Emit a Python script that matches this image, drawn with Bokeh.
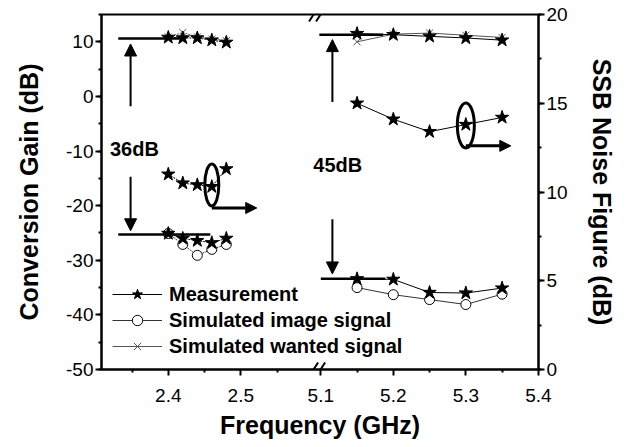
from bokeh.plotting import figure
from bokeh.models import (Range1d, LinearAxis, FixedTicker, SingleIntervalTicker,
                          CustomJSTickFormatter, Legend, LegendItem, Arrow, NormalHead, Label)
from bokeh.embed import file_html
from bokeh.resources import INLINE

# ---------------- data ----------------
freq_24 = [2.40, 2.42, 2.44, 2.46, 2.48]            # GHz
freq_52 = [5.15, 5.20, 5.25, 5.30, 5.35]            # GHz

gain_meas_wanted_24 = [10.8, 10.7, 10.7, 10.3, 9.9]
gain_sim_wanted_24 = [10.9, 11.7, 10.9, 10.5, 10.2]
gain_meas_image_24 = [-25.1, -26.0, -26.4, -26.8, -26.0]
gain_sim_image_24 = [-25.1, -27.1, -29.1, -28.0, -27.1]
nf_meas_24 = [11.0, 10.5, 10.4, 10.3, 11.3]

gain_meas_wanted_52 = [11.5, 11.3, 11.0, 10.7, 10.3]
gain_sim_wanted_52 = [10.0, 11.4, 11.6, 11.2, 10.8]
gain_meas_image_52 = [-33.4, -33.5, -35.9, -36.0, -35.1]
gain_sim_image_52 = [-35.0, -36.3, -37.2, -38.1, -36.2]
nf_meas_52 = [15.0, 14.1, 13.4, 13.8, 14.2]

x_major_ticks = [2.4, 2.5, 5.1, 5.2, 5.3, 5.4]
x_minor_ticks = [2.35, 2.45, 2.55, 5.15, 5.25, 5.35]
rejection_labels = ["36dB", "45dB"]

# ---------------- broken x axis mapping ----------------
BREAK_FROM = 5.1       # real GHz where right segment starts
BREAK_TO = 2.6103      # axis position of that start


def fx(f):
    return f if f < 3.0 else f - BREAK_FROM + BREAK_TO


def fxs(fs):
    return [fx(f) for f in fs]


X_START, X_END = 2.3079, fx(5.4) + 0.0002

FONT = "Liberation Sans"

p = figure(width=638, height=447, output_backend="svg", toolbar_location=None,
           x_range=Range1d(X_START, X_END), y_range=Range1d(-50, 15),
           min_border_left=101, min_border_right=100, min_border_top=14, min_border_bottom=78)
p.extra_y_ranges = {"nf": Range1d(0, 20)}
p.xgrid.visible = False
p.ygrid.visible = False
p.outline_line_color = "black"
p.outline_line_width = 2
p.background_fill_color = "white"
p.border_fill_color = "white"


def style_axis(ax):
    ax.axis_line_width = 2
    ax.major_tick_line_width = 2
    ax.minor_tick_line_width = 2
    ax.major_tick_in = 0
    ax.major_tick_out = 6
    ax.minor_tick_in = 0
    ax.minor_tick_out = 3
    ax.major_label_text_font = FONT
    ax.major_label_text_font_size = "19px"
    ax.major_label_text_color = "black"
    ax.axis_label_text_font = FONT
    ax.axis_label_text_font_size = "25px"
    ax.axis_label_text_font_style = "bold"
    ax.axis_label_text_color = "black"


plain_fmt = CustomJSTickFormatter(code="return tick.toString();")

# x axis
xa = p.xaxis[0]
xa.ticker = FixedTicker(ticks=fxs(x_major_ticks), minor_ticks=fxs(x_minor_ticks))
xa.formatter = CustomJSTickFormatter(args=dict(bf=BREAK_FROM, bt=BREAK_TO), code="""
    const v = tick > bt - 0.005 ? tick - bt + bf : tick;
    return v.toFixed(1);
""")
xa.axis_label = "Frequency (GHz)"
style_axis(xa)
xa.major_label_standoff = 13
xa.axis_label_standoff = 6

# left axis
ya = p.yaxis[0]
ya.ticker = SingleIntervalTicker(interval=10, num_minor_ticks=2)
ya.formatter = plain_fmt
ya.axis_label = "Conversion Gain (dB)"
style_axis(ya)
ya.major_label_standoff = 2
ya.axis_label_standoff = 20

# right axis
ra = LinearAxis(y_range_name="nf", axis_label="SSB Noise Figure (dB)",
                ticker=SingleIntervalTicker(interval=5, num_minor_ticks=2),
                formatter=CustomJSTickFormatter(code="return tick.toString();"))
style_axis(ra)
ra.major_label_standoff = 2
ra.axis_label_standoff = 17
p.add_layout(ra, "right")

# ---------------- series ----------------
MEAS = "black"
IMG = "#333333"
WANT = "#555555"

# 2.4 GHz band (dotted connectors)
p.line(fxs(freq_24), gain_sim_wanted_24, line_color=WANT, line_width=1, line_dash="2 1")
p.scatter(fxs(freq_24), gain_sim_wanted_24, marker="x", size=10, line_color=WANT, line_width=1)
p.line(fxs(freq_24), gain_sim_image_24, line_color=IMG, line_width=1, line_dash="2 1")
p.scatter(fxs(freq_24), gain_sim_image_24, marker="circle", size=10, line_color="black",
          fill_color="white", line_width=1)
p.line(fxs(freq_24), gain_meas_wanted_24, line_color=MEAS, line_width=1, line_dash="2 1")
p.scatter(fxs(freq_24), gain_meas_wanted_24, marker="star", size=14, color=MEAS)
p.line(fxs(freq_24), gain_meas_image_24, line_color=MEAS, line_width=1, line_dash="2 1")
p.scatter(fxs(freq_24), gain_meas_image_24, marker="star", size=14, color=MEAS)
p.line(fxs(freq_24), nf_meas_24, line_color=MEAS, line_width=1, line_dash="2 1", y_range_name="nf")
p.scatter(fxs(freq_24), nf_meas_24, marker="star", size=14, color=MEAS, y_range_name="nf")

# 5.2 GHz band (solid connectors)
rw_l = p.line(fxs(freq_52), gain_sim_wanted_52, line_color=WANT, line_width=1)
rw_s = p.scatter(fxs(freq_52), gain_sim_wanted_52, marker="x", size=10, line_color=WANT, line_width=1)
ri_l = p.line(fxs(freq_52), gain_sim_image_52, line_color=IMG, line_width=1)
ri_s = p.scatter(fxs(freq_52), gain_sim_image_52, marker="circle", size=10, line_color="black",
                 fill_color="white", line_width=1)
rm_l = p.line(fxs(freq_52), gain_meas_wanted_52, line_color=MEAS, line_width=1)
rm_s = p.scatter(fxs(freq_52), gain_meas_wanted_52, marker="star", size=14, color=MEAS)
p.line(fxs(freq_52), gain_meas_image_52, line_color=MEAS, line_width=1)
p.scatter(fxs(freq_52), gain_meas_image_52, marker="star", size=14, color=MEAS)
p.line(fxs(freq_52), nf_meas_52, line_color=MEAS, line_width=1, y_range_name="nf")
p.scatter(fxs(freq_52), nf_meas_52, marker="star", size=14, color=MEAS, y_range_name="nf")

# ---------------- annotations ----------------
# reference levels (thick horizontal lines)
p.segment(x0=[fx(2.331), fx(2.331), fx(5.098), fx(5.100)],
          y0=[gain_meas_wanted_24[0] - 0.2, gain_meas_image_24[0] - 0.2,
              gain_meas_wanted_52[0] - 0.2, gain_meas_image_52[0]],
          x1=[fx(2.419), fx(2.458), fx(5.186), fx(5.189)],
          y1=[gain_meas_wanted_24[0] - 0.2, gain_meas_image_24[0] - 0.2,
              gain_meas_wanted_52[0] - 0.2, gain_meas_image_52[0]],
          line_color="black", line_width=2.5)

# rejection arrows
ax_l = fx(2.348)
ax_r = fx(5.116)
for xs, y0, y1 in [(ax_l, -1.8, 9.6), (ax_l, -14.7, -24.6),
                   (ax_r, -1.0, 10.4), (ax_r, -22.5, -32.5)]:
    p.add_layout(Arrow(end=NormalHead(size=12, fill_color="black", line_color="black"),
                       x_start=xs, y_start=y0, x_end=xs, y_end=y1,
                       line_color="black", line_width=2))

p.add_layout(Label(x=fx(2.3196), y=-9.7, text=rejection_labels[0], text_font=FONT,
                   text_font_style="bold", text_font_size="20px", text_baseline="middle",
                   text_color="black"))
p.add_layout(Label(x=fx(2.600), y=-12.6, text=rejection_labels[1], text_font=FONT,
                   text_font_style="bold", text_font_size="20px", text_baseline="middle",
                   text_color="black"))

# ellipses marking the noise-figure curves, arrows pointing to the right axis
p.ellipse(x=[fx(freq_24[3])], y=[nf_meas_24[3] + 0.1], width=14, height=42,
          width_units="screen", height_units="screen", fill_alpha=0,
          line_color="black", line_width=3, y_range_name="nf")
p.ellipse(x=[fx(freq_52[3])], y=[nf_meas_52[3] - 0.05], width=17, height=45,
          width_units="screen", height_units="screen", fill_alpha=0,
          line_color="black", line_width=3, y_range_name="nf")
p.add_layout(Arrow(end=NormalHead(size=11, fill_color="black", line_color="black"),
                   x_start=fx(freq_24[3]), y_start=9.1, x_end=fx(2.522), y_end=9.1,
                   line_color="black", line_width=3, y_range_name="nf"))
p.add_layout(Arrow(end=NormalHead(size=11, fill_color="black", line_color="black"),
                   x_start=fx(freq_52[3]), y_start=12.6, x_end=fx(5.362), y_end=12.6,
                   line_color="black", line_width=3, y_range_name="nf"))

# axis break marks
xb = (fx(2.6) + fx(5.1)) / 2
dx, dy = 4.5 / 725, 7 / 5.46
for yb in (15, -50):
    for off in (-3.5 / 725, 3.5 / 725):
        p.add_layout(Arrow(end=None, x_start=xb + off - dx, y_start=yb - dy,
                           x_end=xb + off + dx, y_end=yb + dy,
                           line_color="black", line_width=2))

# ---------------- legend ----------------
legend = Legend(items=[
    LegendItem(label="Measurement", renderers=[rm_l, rm_s]),
    LegendItem(label="Simulated image signal", renderers=[ri_l, ri_s]),
    LegendItem(label="Simulated wanted signal", renderers=[rw_l, rw_s]),
], location=(11, 10), glyph_width=50, glyph_height=26, label_height=26,
    label_standoff=7, spacing=0, padding=0, margin=0,
    border_line_color=None, background_fill_alpha=0,
    label_text_font=FONT, label_text_font_style="bold", label_text_font_size="20px",
    label_text_color="black")
p.add_layout(legend)

open("out.html", "w").write(file_html(p, INLINE))
